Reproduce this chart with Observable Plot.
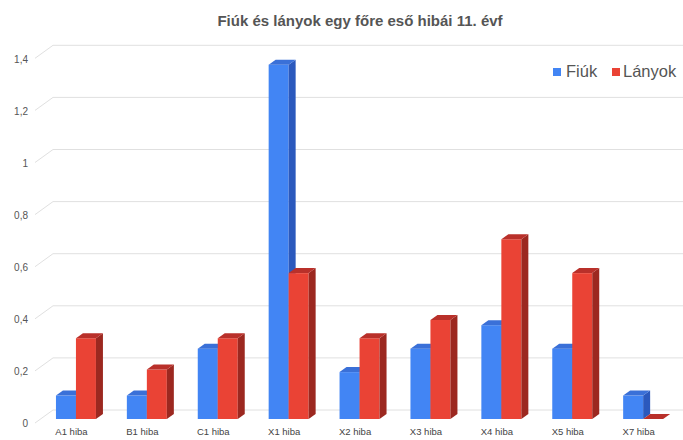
<!DOCTYPE html>
<html>
<head>
<meta charset="utf-8">
<script src="https://cdn.jsdelivr.net/npm/d3@7"></script>
<script src="https://cdn.jsdelivr.net/npm/@observablehq/plot@0.6"></script>
<style>
  body { margin: 0; background: #fff; }
  #wrap { position: relative; width: 683px; height: 440px; font-family: "Liberation Sans", Arial, sans-serif; overflow: hidden; }
  #title { position: absolute; left: 37px; top: 12px; width: 646px; text-align: center; font-size: 15px; line-height: 18px; font-weight: bold; color: #555; }
  #chart { position: absolute; left: 0; top: 38px; }
  .lg-sw { position: absolute; width: 8px; height: 8px; top: 68px; }
  .lg-tx { position: absolute; top: 63px; font-size: 16.5px; line-height: 17px; color: #555; }
</style>
</head>
<body>
<div id="wrap">
  <div id="chart"></div>
  <div id="title">Fiúk és lányok egy főre eső hibái 11. évf</div>
  <div class="lg-sw" style="left:553px;background:#4285f4"></div>
  <div class="lg-tx" style="left:566px">Fiúk</div>
  <div class="lg-sw" style="left:612px;background:#ea4335"></div>
  <div class="lg-tx" style="left:623px">Lányok</div>
</div>
<script>
// ---- data ----
const categories = ["A1 hiba", "B1 hiba", "C1 hiba", "X1 hiba", "X2 hiba", "X3 hiba", "X4 hiba", "X5 hiba", "X7 hiba"];
const fiuk   = [0.09, 0.09, 0.27, 1.36, 0.18, 0.27, 0.36, 0.27, 0.09];
const lanyok = [0.31, 0.19, 0.31, 0.56, 0.31, 0.38, 0.69, 0.56, 0.00];
const yTicks = [0, 0.2, 0.4, 0.6, 0.8, 1.0, 1.2, 1.4];

const fiukData = categories.map((c, i) => ({cat: c, v: fiuk[i]}));
const lanyokData = categories.map((c, i) => ({cat: c, v: lanyok[i]}));

const huLocale = d3.formatLocale({decimal: ",", thousands: " ", grouping: [3], currency: ["", " Ft"]});
const fmt = huLocale.format(".1~f");

const DEPTH_X = 7, DEPTH_Y = 5;       // bar 3D depth (px)
const FRONT_X = 35, WALL_DX = 18, WALL_DY = 13; // perspective of the grid

function bar3d(data, {left, front, side, top}) {
  return Plot.barY(data, {
    x: "cat", y: "v",
    render(index, scales, values, dimensions) {
      const bw = (scales.x && typeof scales.x.bandwidth === "function") ? scales.x.bandwidth() : 40;
      const w = bw / 2;
      const g = d3.create("svg:g");
      for (const i of index) {
        const x0 = values.x[i] + (left ? 0 : w);
        const yT = Math.min(values.y1[i], values.y2[i]);
        const yB = Math.max(values.y1[i], values.y2[i]);
        g.append("rect").attr("x", x0).attr("y", yT).attr("width", w).attr("height", yB - yT).attr("fill", front);
        g.append("path")
          .attr("d", `M${x0 + w},${yT}L${x0 + w + DEPTH_X},${yT - DEPTH_Y}L${x0 + w + DEPTH_X},${yB - DEPTH_Y}L${x0 + w},${yB}Z`)
          .attr("fill", side);
        g.append("path")
          .attr("d", `M${x0},${yT}L${x0 + DEPTH_X},${yT - DEPTH_Y}L${x0 + w + DEPTH_X},${yT - DEPTH_Y}L${x0 + w},${yT}Z`)
          .attr("fill", top);
      }
      return g.node();
    }
  });
}

const chart = Plot.plot({
  width: 683,
  height: 402,
  marginLeft: 40.5,
  marginRight: 4.4,
  marginTop: 16.3,
  marginBottom: 21,
  style: {fontFamily: "'Liberation Sans', Arial, sans-serif", background: "#fff"},
  x: {type: "band", domain: categories, paddingInner: 0.436, paddingOuter: 0.218, round: false, axis: null},
  y: {domain: [0, 1.4], axis: null},
  marks: [
    Plot.ruleY(yTicks, {
      render(index, scales, values, dimensions) {
        const g = d3.create("svg:g");
        for (const i of index) {
          const y = values.y[i];
          g.append("path")
            .attr("d", `M${FRONT_X},${y + 4}L${FRONT_X + WALL_DX},${y + 4 - WALL_DY}H${dimensions.width}`)
            .attr("fill", "none")
            .attr("stroke", "#e0e0e0")
            .attr("stroke-width", 1);
        }
        return g.node();
      }
    }),
    Plot.text(yTicks, {y: d => d, text: d => fmt(d), frameAnchor: "left", textAnchor: "end", dx: -13, dy: 4.5, fontSize: 10, fill: "#555"}),
    bar3d(fiukData, {left: true, front: "#4285f4", side: "#2b59bd", top: "#3a70d8"}),
    bar3d(lanyokData, {left: false, front: "#ea4335", side: "#9c2820", top: "#b9302a"}),
    Plot.text(categories, {x: d => d, frameAnchor: "bottom", dy: 15, dx: -5, fontSize: 9.5, fill: "#444"})
  ]
});
document.getElementById("chart").appendChild(chart);
</script>
</body>
</html>
